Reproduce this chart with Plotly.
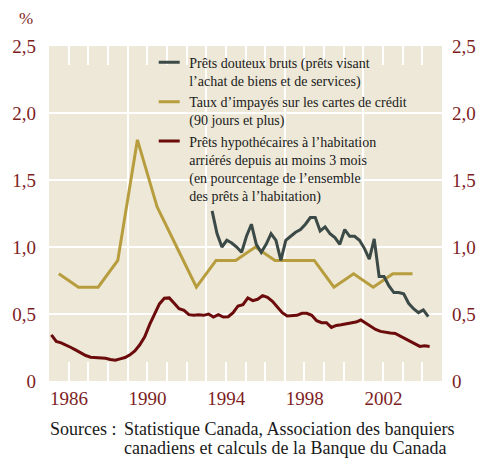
import plotly.graph_objects as go

# ---------------- data ----------------
# Prêts douteux bruts (quarterly, starting 1994 Q2)
gray_start = 1994.3
gray_vals = [1.27, 1.10, 1.00, 1.05, 1.03, 1.00, 0.96, 1.08, 1.17, 1.02,
             0.96, 1.02, 1.10, 1.05, 0.90, 1.05, 1.08, 1.11, 1.13, 1.17,
             1.22, 1.22, 1.12, 1.15, 1.10, 1.07, 1.02, 1.13, 1.08, 1.08,
             1.05, 0.99, 0.91, 1.06, 0.78, 0.78, 0.71, 0.66, 0.66, 0.65,
             0.58, 0.54, 0.51, 0.53, 0.48]
gray_x = [gray_start + 0.25 * i for i in range(len(gray_vals))]

# Taux d'impayés sur les cartes de crédit (annual, plotted mid-year)
gold_years = [1986.5, 1987.5, 1988.5, 1989.5, 1990.5, 1991.5, 1992.5, 1993.5,
              1994.5, 1995.5, 1996.5, 1997.5, 1998.5, 1999.5, 2000.5, 2001.5,
              2002.5, 2003.5, 2004.5]
gold_vals = [0.80, 0.70, 0.70, 0.90, 1.80, 1.30, 1.00, 0.70,
             0.90, 0.90, 1.00, 0.90, 0.90, 0.90, 0.70, 0.80,
             0.70, 0.80, 0.80]

# Prêts hypothécaires arriérés (quarterly from 1986)
red_start = 1986.12
red_vals = [0.345, 0.295, 0.285, 0.270,
            0.250, 0.230, 0.210, 0.190,
            0.178, 0.176, 0.173, 0.170,
            0.160, 0.155, 0.165, 0.175,
            0.195, 0.225, 0.270, 0.330,
            0.420, 0.500, 0.575, 0.617,
            0.620, 0.580, 0.540, 0.527,
            0.495, 0.490, 0.495, 0.490,
            0.500, 0.477, 0.495, 0.477,
            0.480, 0.510, 0.560, 0.570,
            0.620, 0.600, 0.610, 0.637,
            0.625, 0.595, 0.550, 0.510,
            0.485, 0.485, 0.490, 0.505,
            0.505, 0.490, 0.450, 0.435,
            0.435, 0.400, 0.415, 0.420,
            0.425, 0.430, 0.440, 0.455,
            0.430, 0.405, 0.385, 0.370,
            0.362, 0.358, 0.355, 0.335,
            0.320, 0.300, 0.280, 0.258,
            0.263, 0.258]
red_x = [red_start + 0.25 * i for i in range(len(red_vals))]

year_ticks = list(range(1986, 2006))
year_labels = ["1986", "", "", "", "1990", "", "", "", "1994", "", "", "",
               "1998", "", "", "", "2002", "", "", ""]
grid_years = [1990, 1994, 1998, 2002]
y_tick_vals = [0, 0.5, 1.0, 1.5, 2.0, 2.5]
y_tick_text = ["0", "0,5", "1,0", "1,5", "2,0", "2,5"]

names = [
    "Prêts douteux bruts (prêts visant<br>l’achat de biens et de services)",
    "Taux d’impayés sur les cartes de crédit<br>(90 jours et plus)",
    "Prêts hypothécaires à l’habitation<br>arriérés depuis au moins 3 mois<br>(en pourcentage de l’ensemble<br>des prêts à l’habitation)",
]
source_lines = ["Statistique Canada, Association des banquiers",
                "canadiens et calculs de la Banque du Canada"]

# ---------------- style ----------------
C_GRAY = "#3c4a47"
C_GOLD = "#b79d3d"
C_RED = "#6c0b0b"
C_LABEL = "#7d1e1e"
C_BG = "#ede8d7"
FONT = "Liberation Serif, DejaVu Serif, serif"

fig = go.Figure()

fig.add_trace(go.Scatter(x=red_x, y=red_vals, mode="lines",
                         line=dict(color=C_RED, width=3), showlegend=False))
fig.add_trace(go.Scatter(x=gold_years, y=gold_vals, mode="lines",
                         line=dict(color=C_GOLD, width=3), showlegend=False))
fig.add_trace(go.Scatter(x=gray_x, y=gray_vals, mode="lines",
                         line=dict(color=C_GRAY, width=3), showlegend=False))

# legend entries (short line symbols)
for nm, col in zip(names, [C_GRAY, C_GOLD, C_RED]):
    fig.add_trace(go.Scatter(x=[None], y=[None], mode="markers", name=nm,
                             legendgroup="all",
                             marker=dict(symbol="line-ew-open", size=15, color=col,
                                         line=dict(color=col, width=3))))

# right axis (invisible trace)
fig.add_trace(go.Scatter(x=[None], y=[None], yaxis="y2",
                         showlegend=False, hoverinfo="skip"))

fig.update_layout(
    width=479, height=458,
    margin=dict(l=49, r=37, t=46, b=77),
    paper_bgcolor="white",
    plot_bgcolor=C_BG,
    font=dict(family=FONT, color="#1a1a1a"),
    xaxis=dict(
        range=[1986, 2006], automargin=False,
        tickmode="array", tickvals=year_ticks, ticktext=year_labels,
        ticks="inside", ticklen=19, tickwidth=2, tickcolor="white",
        mirror="ticks", showline=False,
        showgrid=False, zeroline=False,
        tickfont=dict(family=FONT, size=19, color=C_LABEL),
        ticklabelshift=20, ticklabelstandoff=4,
        minor=dict(tickmode="array", tickvals=grid_years, ticks="",
                   showgrid=True, gridcolor="white", gridwidth=2),
    ),
    yaxis=dict(
        range=[0, 2.5], tickvals=y_tick_vals, ticktext=y_tick_text,
        automargin=False,
        showgrid=True, gridcolor="white", gridwidth=2, zeroline=False,
        ticks="", showline=False,
        tickfont=dict(family=FONT, size=19, color=C_LABEL),
        ticklabelstandoff=12,
    ),
    yaxis2=dict(
        range=[0, 2.5], tickvals=y_tick_vals, ticktext=y_tick_text,
        automargin=False,
        overlaying="y", side="right", showgrid=False, zeroline=False,
        ticks="", showline=False,
        tickfont=dict(family=FONT, size=19, color=C_LABEL),
        ticklabelstandoff=9,
    ),
    legend=dict(
        x=0.255, y=0.998, xanchor="left", yanchor="top",
        bgcolor="rgba(0,0,0,0)", borderwidth=0,
        font=dict(family=FONT, size=14, color="#1a1a1a"),
        valign="top", tracegroupgap=0, itemwidth=30,
    ),
    showlegend=True,
    annotations=[
        dict(text="%", xref="paper", yref="paper", x=-0.036, y=1.0,
             yshift=28, xanchor="right", yanchor="middle", showarrow=False,
             font=dict(family=FONT, size=17, color=C_LABEL)),
        dict(text="Sources :", xref="paper", yref="paper", x=0, y=0,
             xshift=-1, yshift=-48, xanchor="left", yanchor="middle",
             showarrow=False, font=dict(family=FONT, size=18, color="#1a1a1a")),
        dict(text=source_lines[0],
             xref="paper", yref="paper", x=0, y=0, xshift=73, yshift=-48,
             xanchor="left", yanchor="middle", showarrow=False,
             font=dict(family=FONT, size=18, color="#1a1a1a")),
        dict(text=source_lines[1],
             xref="paper", yref="paper", x=0, y=0, xshift=73, yshift=-67,
             xanchor="left", yanchor="middle", showarrow=False,
             font=dict(family=FONT, size=18, color="#1a1a1a")),
    ],
)

fig.write_html("out.html",
               config={"displayModeBar": False},
               post_script="document.body.style.margin='0';document.body.style.overflow='hidden';")
